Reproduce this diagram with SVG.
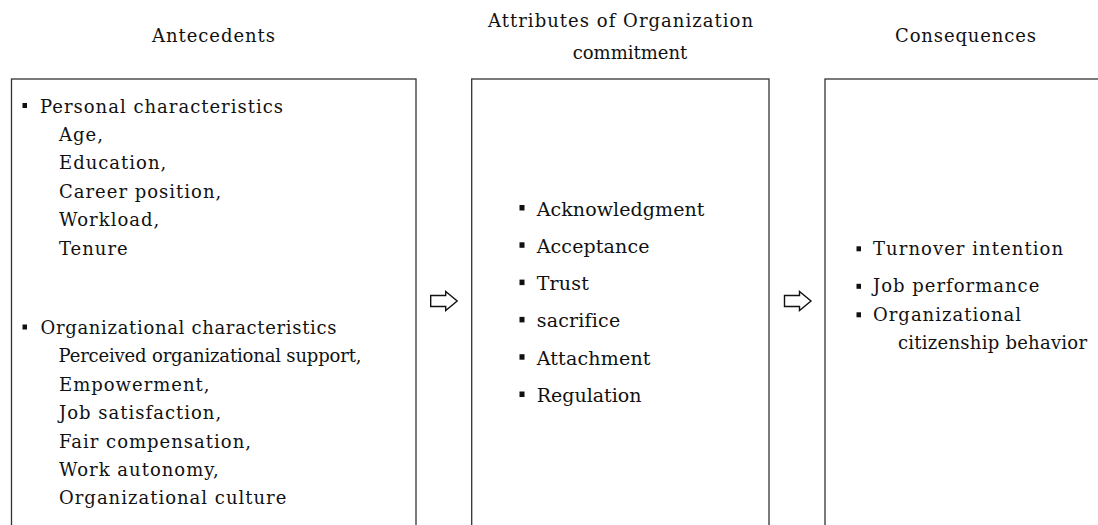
<svg xmlns="http://www.w3.org/2000/svg" width="1098" height="525" viewBox="0 0 1098 525">
  <style>
    .bg { fill: #ffffff; }
    .box { fill: none; stroke: #333333; stroke-width: 1.3; }
    .t { font-family: "DejaVu Serif", "Liberation Serif", serif; font-size: 18px; letter-spacing: 1px; fill: #111111; }
    .fit { letter-spacing: 0; }
    .hd { text-anchor: middle; }
    .mid { font-size: 19px; letter-spacing: 0.2px; }
    .arrow { fill: #ffffff; stroke: #111111; stroke-width: 1.4; stroke-linejoin: miter; }
    .bul { fill: #111111; }
  </style>
  <defs>
    <rect id="sq" width="4.5" height="5" class="bul"/>
    <rect id="sqL" width="5" height="5.5" class="bul"/>
    <!-- hollow block arrow pointing right, origin at its left/middle -->
    <path id="blk" d="M0,-5.5 H15 V-9.5 L26.5,0 L15,9.5 V5.5 H0 Z"/>
  </defs>

  <rect class="bg" x="0" y="0" width="1098" height="525"/>

  <!-- left column: antecedents -->
  <g id="antecedents">
    <text class="t fit" x="152" y="41.7" textLength="123" lengthAdjust="spacing">Antecedents</text>
    <rect class="box" x="11.5" y="79" width="404.5" height="470"/>
    <use href="#sq" x="22.5" y="103"/>
    <text class="t fit" x="40" y="112.5" textLength="243" lengthAdjust="spacing">Personal characteristics</text>
    <text class="t" x="59" y="140.9">Age,</text>
    <text class="t" x="59" y="169.3">Education,</text>
    <text class="t" x="59" y="197.7">Career position,</text>
    <text class="t" x="59" y="226.1">Workload,</text>
    <text class="t" x="59" y="254.5">Tenure</text>
    <use href="#sq" x="22.5" y="324.5"/>
    <text class="t fit" x="40.5" y="334" textLength="296" lengthAdjust="spacing">Organizational characteristics</text>
    <text class="t fit" x="58.5" y="362.4" textLength="303" lengthAdjust="spacing">Perceived organizational support,</text>
    <text class="t" x="59" y="390.8">Empowerment,</text>
    <text class="t" x="59" y="419.2">Job satisfaction,</text>
    <text class="t" x="59" y="447.6">Fair compensation,</text>
    <text class="t" x="59" y="476">Work autonomy,</text>
    <text class="t" x="59" y="504.4">Organizational culture</text>
  </g>

  <!-- centre column: attributes -->
  <g id="attributes">
    <text class="t fit" x="488" y="26.5" textLength="265" lengthAdjust="spacing">Attributes of Organization</text>
    <text class="t fit hd" x="630" y="59.3">commitment</text>
    <rect class="box" x="471.7" y="79" width="297.3" height="470"/>
    <use href="#sqL" x="519.5" y="205"/>
    <text class="t mid fit" x="536.7" y="215.5" textLength="168" lengthAdjust="spacing">Acknowledgment</text>
    <use href="#sqL" x="519.5" y="242.3"/>
    <text class="t mid fit" x="536.7" y="252.8" textLength="113" lengthAdjust="spacing">Acceptance</text>
    <use href="#sqL" x="519.5" y="279.6"/>
    <text class="t mid" x="536.7" y="290.1">Trust</text>
    <use href="#sqL" x="519.5" y="316.9"/>
    <text class="t mid" x="536.7" y="327.4">sacrifice</text>
    <use href="#sqL" x="519.5" y="354.2"/>
    <text class="t mid" x="536.7" y="364.7">Attachment</text>
    <use href="#sqL" x="519.5" y="391.5"/>
    <text class="t mid fit" x="536.7" y="402" textLength="105" lengthAdjust="spacing">Regulation</text>
  </g>

  <!-- right column: consequences -->
  <g id="consequences">
    <text class="t fit" x="895" y="41.7" textLength="141" lengthAdjust="spacing">Consequences</text>
    <rect class="box" x="825" y="79" width="290" height="470"/>
    <use href="#sq" x="856.5" y="246.3"/>
    <text class="t fit" x="873" y="254.8" textLength="190" lengthAdjust="spacing">Turnover intention</text>
    <use href="#sq" x="856.5" y="283.8"/>
    <text class="t" x="873" y="292.3">Job performance</text>
    <use href="#sq" x="856.5" y="312.3"/>
    <text class="t" x="873" y="320.8">Organizational</text>
    <text class="t fit" x="898" y="349.3" textLength="189" lengthAdjust="spacing">citizenship behavior</text>
  </g>

  <!-- flow arrows between the columns -->
  <g id="connectors">
    <use href="#blk" class="arrow" x="430.7" y="301"/>
    <use href="#blk" class="arrow" x="784.5" y="301"/>
  </g>
</svg>
